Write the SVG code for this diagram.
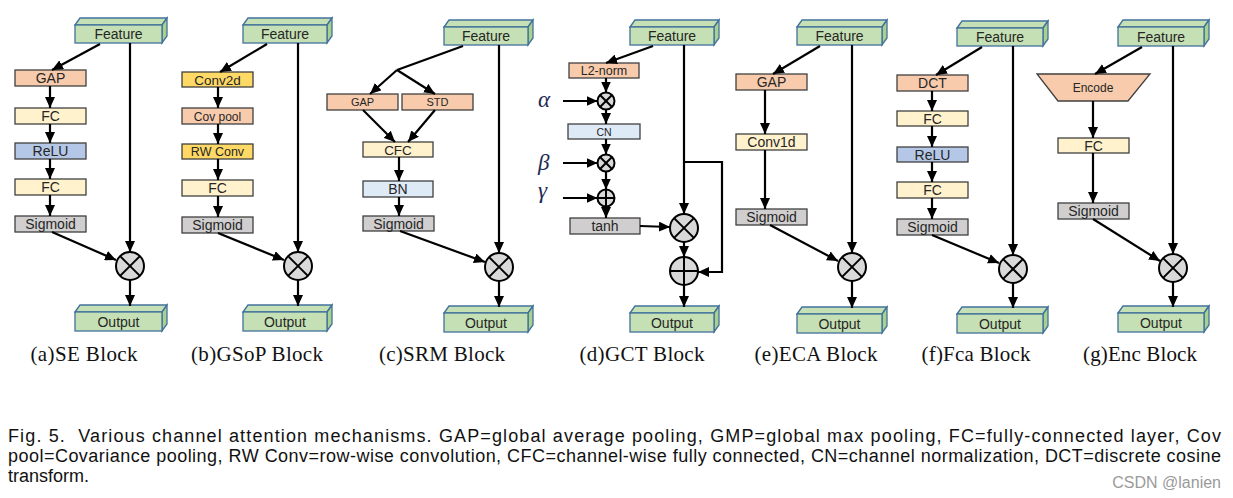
<svg xmlns="http://www.w3.org/2000/svg" width="1233" height="498" viewBox="0 0 1233 498">
<style>
.t{font-family:"Liberation Sans",Arial,sans-serif;fill:#262626;text-anchor:middle}
.b{stroke:#404040;stroke-width:1.3}
.gap{fill:#F8CBAD}
.fc{fill:#FFF2CC}
.relu{fill:#B4C7E7}
.sig{fill:#D0CECE}
.bn{fill:#DEEBF7}
.gold{fill:#FFD966}
.ff{fill:#C5E0B4;stroke:#41719C;stroke-width:1.3}
.fs{fill:#A9D18E;stroke:#41719C;stroke-width:1.3}
.op{fill:#D9D9D9;stroke:#000;stroke-width:2}
.x{stroke:#000;stroke-width:2}
.cap{font-family:"Liberation Serif","Times New Roman",serif;font-size:21px;fill:#111;text-anchor:middle}
.gr{font-family:"Liberation Serif","Times New Roman",serif;font-style:italic;font-size:23px;fill:#1F2A55}
.fig{font-family:"Liberation Sans",Arial,sans-serif;font-size:18px;fill:#111}
#connectors line,#connectors polyline{stroke:#000;stroke-width:2.2;fill:none}
</style>
<defs>
<marker id="ah" markerUnits="userSpaceOnUse" markerWidth="11" markerHeight="10" refX="11" refY="5" orient="auto">
<path d="M0,0 L11,5 L0,10 z" fill="#000"/>
</marker>
<g id="otimesL"><circle r="14" class="op"/><line x1="-9.9" y1="-9.9" x2="9.9" y2="9.9" class="x"/><line x1="-9.9" y1="9.9" x2="9.9" y2="-9.9" class="x"/></g>
<g id="oplusL"><circle r="14" class="op"/><line x1="-14" y1="0" x2="14" y2="0" class="x"/><line x1="0" y1="-14" x2="0" y2="14" class="x"/></g>
<g id="otimesS"><circle r="8.5" class="op"/><line x1="-6" y1="-6" x2="6" y2="6" class="x"/><line x1="-6" y1="6" x2="6" y2="-6" class="x"/></g>
<g id="oplusS"><circle r="8.5" class="op"/><line x1="-8.5" y1="0" x2="8.5" y2="0" class="x"/><line x1="0" y1="-8.5" x2="0" y2="8.5" class="x"/></g>
</defs>
<rect width="1233" height="498" fill="#fff"/>

<!-- Panel (a) -->
<g id="a-feature"><polygon class="ff" points="75,25 80,18 167,18 162,25"/><polygon class="fs" points="162,25 167,18 167,36 162,43"/><rect class="ff" x="75" y="25" width="87" height="18"/><text class="t" x="118.5" y="39" font-size="14">Feature</text></g>
<g id="a-gap"><rect class="b gap" x="15" y="70" width="71" height="16"/><text class="t" x="50.5" y="83" font-size="14">GAP</text></g>
<g id="a-fc1"><rect class="b fc" x="15" y="108" width="71" height="16"/><text class="t" x="50.5" y="121" font-size="14">FC</text></g>
<g id="a-relu"><rect class="b relu" x="15" y="143" width="71" height="16"/><text class="t" x="50.5" y="156" font-size="14">ReLU</text></g>
<g id="a-fc2"><rect class="b fc" x="15" y="179" width="71" height="16"/><text class="t" x="50.5" y="192" font-size="14">FC</text></g>
<g id="a-sig"><rect class="b sig" x="15" y="216" width="71" height="16"/><text class="t" x="50.5" y="229" font-size="14">Sigmoid</text></g>
<g id="a-mul"><use href="#otimesL" x="130" y="266"/></g>
<g id="a-output"><polygon class="ff" points="75,312 80,305 167,305 162,312"/><polygon class="fs" points="162,312 167,305 167,324 162,331"/><rect class="ff" x="75" y="312" width="87" height="19"/><text class="t" x="118.5" y="327" font-size="14">Output</text></g>
<text class="cap" x="84" y="361" textLength="107">(a)SE Block</text>

<!-- Panel (b) -->
<g id="b-feature"><polygon class="ff" points="243,25 248,18 332,18 327,25"/><polygon class="fs" points="327,25 332,18 332,36 327,43"/><rect class="ff" x="243" y="25" width="84" height="18"/><text class="t" x="285" y="39" font-size="14">Feature</text></g>
<g id="b-conv2d"><rect class="b gold" x="182" y="72" width="71" height="15"/><text class="t" x="217.5" y="84.5" font-size="13.5">Conv2d</text></g>
<g id="b-covpool"><rect class="b gap" x="182" y="108" width="71" height="16"/><text class="t" x="217.5" y="120.5" font-size="12">Cov pool</text></g>
<g id="b-rwconv"><rect class="b gold" x="182" y="144" width="71" height="15"/><text class="t" x="217.5" y="156" font-size="12.5">RW Conv</text></g>
<g id="b-fc"><rect class="b fc" x="182" y="180" width="71" height="16"/><text class="t" x="217.5" y="193" font-size="14">FC</text></g>
<g id="b-sig"><rect class="b sig" x="182" y="217" width="71" height="16"/><text class="t" x="217.5" y="230" font-size="14">Sigmoid</text></g>
<g id="b-mul"><use href="#otimesL" x="298" y="266"/></g>
<g id="b-output"><polygon class="ff" points="243,312 248,305 332,305 327,312"/><polygon class="fs" points="327,312 332,305 332,324 327,331"/><rect class="ff" x="243" y="312" width="84" height="19"/><text class="t" x="285" y="327" font-size="14">Output</text></g>
<text class="cap" x="257" y="361" textLength="132">(b)GSoP Block</text>

<!-- Panel (c) -->
<g id="c-feature"><polygon class="ff" points="444,27 449,20 533,20 528,27"/><polygon class="fs" points="528,27 533,20 533,38 528,45"/><rect class="ff" x="444" y="27" width="84" height="18"/><text class="t" x="486" y="41" font-size="14">Feature</text></g>
<g id="c-gap"><rect class="b gap" x="327" y="94" width="71" height="16"/><text class="t" x="362.5" y="106" font-size="11">GAP</text></g>
<g id="c-std"><rect class="b gap" x="402" y="94" width="71" height="16"/><text class="t" x="437.5" y="106" font-size="11">STD</text></g>
<g id="c-cfc"><rect class="b fc" x="363" y="142" width="70" height="15"/><text class="t" x="398" y="154.5" font-size="13.5">CFC</text></g>
<g id="c-bn"><rect class="b bn" x="363" y="181" width="70" height="16"/><text class="t" x="398" y="194" font-size="14">BN</text></g>
<g id="c-sig"><rect class="b sig" x="363" y="216" width="71" height="15"/><text class="t" x="398.5" y="228.5" font-size="14">Sigmoid</text></g>
<g id="c-mul"><use href="#otimesL" x="499" y="267"/></g>
<g id="c-output"><polygon class="ff" points="444,313 449,306 533,306 528,313"/><polygon class="fs" points="528,313 533,306 533,325 528,332"/><rect class="ff" x="444" y="313" width="84" height="19"/><text class="t" x="486" y="328" font-size="14">Output</text></g>
<text class="cap" x="442" y="361" textLength="126">(c)SRM Block</text>

<!-- Panel (d) -->
<g id="d-feature"><polygon class="ff" points="630,27 635,20 719,20 714,27"/><polygon class="fs" points="714,27 719,20 719,38 714,45"/><rect class="ff" x="630" y="27" width="84" height="18"/><text class="t" x="672" y="41" font-size="14">Feature</text></g>
<g id="d-l2"><rect class="b gap" x="569" y="63" width="70" height="15"/><text class="t" x="604" y="75" font-size="12.5">L2-norm</text></g>
<g id="d-mul1"><use href="#otimesS" x="606" y="101"/></g>
<g id="d-cn"><rect class="b bn" x="568" y="124" width="72" height="15"/><text class="t" x="604" y="135.5" font-size="10.5">CN</text></g>
<g id="d-mul2"><use href="#otimesS" x="606" y="163"/></g>
<g id="d-add1"><use href="#oplusS" x="606" y="198"/></g>
<g id="d-tanh"><rect class="b sig" x="570" y="218" width="70" height="16"/><text class="t" x="605" y="231" font-size="14">tanh</text></g>
<g id="d-mul3"><use href="#otimesL" x="684" y="228"/></g>
<g id="d-add2"><use href="#oplusL" x="684" y="271"/></g>
<g id="d-output"><polygon class="ff" points="630,313 635,306 719,306 714,313"/><polygon class="fs" points="714,313 719,306 719,325 714,332"/><rect class="ff" x="630" y="313" width="84" height="19"/><text class="t" x="672" y="328" font-size="14">Output</text></g>
<text class="gr" x="538" y="107">α</text>
<text class="gr" x="538" y="170">β</text>
<text class="gr" x="538" y="198">γ</text>
<text class="cap" x="642" y="361" textLength="125">(d)GCT Block</text>

<!-- Panel (e) -->
<g id="e-feature"><polygon class="ff" points="797,27 802,20 887,20 882,27"/><polygon class="fs" points="882,27 887,20 887,38 882,45"/><rect class="ff" x="797" y="27" width="85" height="18"/><text class="t" x="839.5" y="41" font-size="14">Feature</text></g>
<g id="e-gap"><rect class="b gap" x="736" y="74" width="71" height="16"/><text class="t" x="771.5" y="87" font-size="14">GAP</text></g>
<g id="e-conv1d"><rect class="b fc" x="736" y="134" width="71" height="16"/><text class="t" x="771.5" y="147" font-size="14">Conv1d</text></g>
<g id="e-sig"><rect class="b sig" x="736" y="209" width="71" height="16"/><text class="t" x="771.5" y="222" font-size="14">Sigmoid</text></g>
<g id="e-mul"><use href="#otimesL" x="852" y="267"/></g>
<g id="e-output"><polygon class="ff" points="797,314 802,307 887,307 882,314"/><polygon class="fs" points="882,314 887,307 887,326 882,333"/><rect class="ff" x="797" y="314" width="85" height="19"/><text class="t" x="839.5" y="329" font-size="14">Output</text></g>
<text class="cap" x="816" y="361" textLength="123">(e)ECA Block</text>

<!-- Panel (f) -->
<g id="f-feature"><polygon class="ff" points="957,28 962,21 1048,21 1043,28"/><polygon class="fs" points="1043,28 1048,21 1048,39 1043,46"/><rect class="ff" x="957" y="28" width="86" height="18"/><text class="t" x="1000" y="42" font-size="14">Feature</text></g>
<g id="f-dct"><rect class="b gap" x="897" y="75" width="71" height="16"/><text class="t" x="932.5" y="88" font-size="14">DCT</text></g>
<g id="f-fc1"><rect class="b fc" x="897" y="111" width="71" height="15"/><text class="t" x="932.5" y="123.5" font-size="14">FC</text></g>
<g id="f-relu"><rect class="b relu" x="897" y="147" width="71" height="15"/><text class="t" x="932.5" y="159.5" font-size="14">ReLU</text></g>
<g id="f-fc2"><rect class="b fc" x="897" y="182" width="71" height="16"/><text class="t" x="932.5" y="195" font-size="14">FC</text></g>
<g id="f-sig"><rect class="b sig" x="897" y="219" width="71" height="16"/><text class="t" x="932.5" y="232" font-size="14">Sigmoid</text></g>
<g id="f-mul"><use href="#otimesL" x="1013" y="269"/></g>
<g id="f-output"><polygon class="ff" points="957,314 962,307 1048,307 1043,314"/><polygon class="fs" points="1043,314 1048,307 1048,326 1043,333"/><rect class="ff" x="957" y="314" width="86" height="19"/><text class="t" x="1000" y="329" font-size="14">Output</text></g>
<text class="cap" x="976" y="361" textLength="109">(f)Fca Block</text>

<!-- Panel (g) -->
<g id="g-feature"><polygon class="ff" points="1118,27 1123,20 1209,20 1204,27"/><polygon class="fs" points="1204,27 1209,20 1209,39 1204,46"/><rect class="ff" x="1118" y="27" width="86" height="19"/><text class="t" x="1161" y="41.5" font-size="14">Feature</text></g>
<g id="g-encode"><polygon class="b gap" points="1037,74 1150,74 1128,101 1058,101"/><text class="t" x="1093" y="92" font-size="12">Encode</text></g>
<g id="g-fc"><rect class="b fc" x="1058" y="138" width="71" height="15"/><text class="t" x="1093.5" y="150.5" font-size="14">FC</text></g>
<g id="g-sig"><rect class="b sig" x="1058" y="203" width="71" height="16"/><text class="t" x="1093.5" y="216" font-size="14">Sigmoid</text></g>
<g id="g-mul"><use href="#otimesL" x="1173" y="268"/></g>
<g id="g-output"><polygon class="ff" points="1118,313 1123,306 1209,306 1204,313"/><polygon class="fs" points="1204,313 1209,306 1209,325 1204,332"/><rect class="ff" x="1118" y="313" width="86" height="19"/><text class="t" x="1161" y="328" font-size="14">Output</text></g>
<text class="cap" x="1140" y="361" textLength="114">(g)Enc Block</text>

<g id="connectors">
<!-- a -->
<line x1="100" y1="44" x2="52" y2="70" marker-end="url(#ah)"/>
<line x1="50" y1="86" x2="50" y2="108" marker-end="url(#ah)"/>
<line x1="50" y1="124" x2="50" y2="143" marker-end="url(#ah)"/>
<line x1="50" y1="159" x2="50" y2="179" marker-end="url(#ah)"/>
<line x1="50" y1="195" x2="50" y2="216" marker-end="url(#ah)"/>
<line x1="52" y1="232" x2="116" y2="260" marker-end="url(#ah)"/>
<line x1="130" y1="43" x2="130" y2="252" marker-end="url(#ah)"/>
<line x1="130" y1="280" x2="130" y2="306" marker-end="url(#ah)"/>
<!-- b -->
<line x1="267" y1="44" x2="220" y2="72" marker-end="url(#ah)"/>
<line x1="218" y1="87" x2="218" y2="108" marker-end="url(#ah)"/>
<line x1="218" y1="124" x2="218" y2="144" marker-end="url(#ah)"/>
<line x1="218" y1="159" x2="218" y2="180" marker-end="url(#ah)"/>
<line x1="218" y1="196" x2="218" y2="217" marker-end="url(#ah)"/>
<line x1="218" y1="233" x2="284" y2="260" marker-end="url(#ah)"/>
<line x1="298" y1="43" x2="298" y2="252" marker-end="url(#ah)"/>
<line x1="298" y1="280" x2="298" y2="306" marker-end="url(#ah)"/>
<!-- c -->
<polyline points="463,46 397,70"/>
<line x1="397" y1="70" x2="370" y2="94" marker-end="url(#ah)"/>
<line x1="397" y1="70" x2="435" y2="94" marker-end="url(#ah)"/>
<line x1="363" y1="110" x2="395" y2="142" marker-end="url(#ah)"/>
<line x1="435" y1="110" x2="408" y2="142" marker-end="url(#ah)"/>
<line x1="399" y1="157" x2="399" y2="181" marker-end="url(#ah)"/>
<line x1="399" y1="197" x2="399" y2="216" marker-end="url(#ah)"/>
<line x1="400" y1="231" x2="485" y2="262" marker-end="url(#ah)"/>
<line x1="499" y1="45" x2="499" y2="253" marker-end="url(#ah)"/>
<line x1="499" y1="281" x2="499" y2="307" marker-end="url(#ah)"/>
<!-- d -->
<line x1="653" y1="46" x2="606" y2="63" marker-end="url(#ah)"/>
<line x1="606" y1="78" x2="606" y2="92.5" marker-end="url(#ah)"/>
<line x1="563" y1="101" x2="597.5" y2="101" marker-end="url(#ah)"/>
<line x1="606" y1="109.5" x2="606" y2="124" marker-end="url(#ah)"/>
<line x1="606" y1="139" x2="606" y2="154.5" marker-end="url(#ah)"/>
<line x1="563" y1="163" x2="597.5" y2="163" marker-end="url(#ah)"/>
<line x1="606" y1="171.5" x2="606" y2="189.5" marker-end="url(#ah)"/>
<line x1="563" y1="198" x2="597.5" y2="198" marker-end="url(#ah)"/>
<line x1="606" y1="206.5" x2="606" y2="218" marker-end="url(#ah)"/>
<line x1="640" y1="226" x2="670" y2="227" marker-end="url(#ah)"/>
<line x1="684" y1="45" x2="684" y2="214" marker-end="url(#ah)"/>
<polyline points="684,162 722,162 722,272 698,272" marker-end="url(#ah)"/>
<line x1="684" y1="242" x2="684" y2="257" marker-end="url(#ah)"/>
<line x1="684" y1="285" x2="684" y2="307" marker-end="url(#ah)"/>
<!-- e -->
<line x1="820" y1="46" x2="773" y2="74" marker-end="url(#ah)"/>
<line x1="765" y1="90" x2="765" y2="134" marker-end="url(#ah)"/>
<line x1="765" y1="150" x2="765" y2="209" marker-end="url(#ah)"/>
<line x1="770" y1="225" x2="838" y2="261" marker-end="url(#ah)"/>
<line x1="852" y1="45" x2="852" y2="253" marker-end="url(#ah)"/>
<line x1="852" y1="281" x2="852" y2="308" marker-end="url(#ah)"/>
<!-- f -->
<line x1="982" y1="47" x2="936" y2="75" marker-end="url(#ah)"/>
<line x1="932" y1="91" x2="932" y2="111" marker-end="url(#ah)"/>
<line x1="932" y1="126" x2="932" y2="147" marker-end="url(#ah)"/>
<line x1="932" y1="162" x2="932" y2="182" marker-end="url(#ah)"/>
<line x1="932" y1="198" x2="932" y2="219" marker-end="url(#ah)"/>
<line x1="932" y1="235" x2="999" y2="263" marker-end="url(#ah)"/>
<line x1="1013" y1="46" x2="1013" y2="255" marker-end="url(#ah)"/>
<line x1="1013" y1="283" x2="1013" y2="308" marker-end="url(#ah)"/>
<!-- g -->
<line x1="1142" y1="47" x2="1095" y2="74" marker-end="url(#ah)"/>
<line x1="1093" y1="101" x2="1093" y2="138" marker-end="url(#ah)"/>
<line x1="1093" y1="153" x2="1093" y2="203" marker-end="url(#ah)"/>
<line x1="1093" y1="219" x2="1160" y2="261" marker-end="url(#ah)"/>
<line x1="1173" y1="46" x2="1173" y2="254" marker-end="url(#ah)"/>
<line x1="1173" y1="282" x2="1173" y2="307" marker-end="url(#ah)"/>
</g>

<g id="caption">
<text class="fig" x="8" y="442" textLength="1213" lengthAdjust="spacing" xml:space="preserve">Fig. 5.  Various channel attention mechanisms. GAP=global average pooling, GMP=global max pooling, FC=fully-connected layer, Cov</text>
<text class="fig" x="8" y="462" textLength="1213" lengthAdjust="spacing">pool=Covariance pooling, RW Conv=row-wise convolution, CFC=channel-wise fully connected, CN=channel normalization, DCT=discrete cosine</text>
<text class="fig" x="8" y="482">transform.</text>
</g>
<text x="1221" y="488" font-family="Liberation Sans,Arial,sans-serif" font-size="16" fill="#9a9a9a" text-anchor="end">CSDN @lanien</text>
</svg>
